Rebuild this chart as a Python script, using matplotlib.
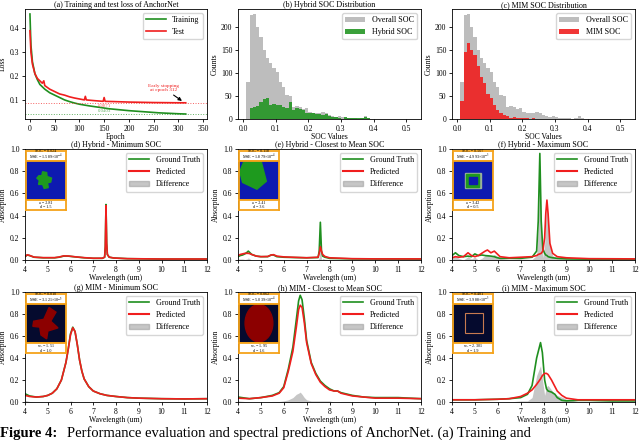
import numpy as np
import matplotlib
matplotlib.use("Agg")
from matplotlib import pyplot as plt
from matplotlib.patches import Patch, Polygon, Rectangle, Ellipse

# ---- (a) loss curves ----
train_epoch = [0, 2, 5, 10, 15, 20, 30, 40, 50, 60, 70, 80, 90, 100, 120, 140,
               160, 180, 200, 220, 240, 260, 280, 300, 315]
train_loss = [0.46, 0.33, 0.26, 0.21, 0.185, 0.165, 0.145, 0.13, 0.12, 0.11, 0.10,
              0.093, 0.087, 0.082, 0.075, 0.069, 0.063, 0.059, 0.055, 0.052, 0.049,
              0.046, 0.044, 0.042, 0.041]
test_epoch = [0, 2, 5, 10, 15, 20, 25, 28, 30, 40, 50, 60, 70, 80, 90, 100, 110,
              112, 114, 130, 148, 150, 152, 170, 200, 250, 300, 315]
test_loss = [0.39, 0.30, 0.25, 0.21, 0.19, 0.18, 0.17, 0.18, 0.16, 0.145, 0.135,
             0.125, 0.12, 0.113, 0.108, 0.104, 0.10, 0.115, 0.10, 0.097, 0.094, 0.11,
             0.094, 0.093, 0.091, 0.089, 0.088, 0.088]
best_test = 0.0871
best_train = 0.0403
stop_epoch = 312

# ---- (b), (c) SOC histograms, bins of 0.01 from 0.01 ----
bin_start = 0.01
bin_width = 0.01
overall_counts = [81, 226, 228, 200, 178, 150, 132, 121, 110, 103, 81, 69, 52, 50, 27,
                  28, 27, 21, 23, 16, 14, 12, 14, 16, 12, 9, 7, 5, 6, 4, 3, 2, 3, 2, 1,
                  2, 6, 3, 1, 1, 0, 0, 0, 0, 0, 0, 0, 0, 0, 1, 1]
hybrid_counts = [0, 25, 27, 28, 37, 44, 46, 30, 33, 31, 30, 27, 25, 37, 20, 23, 22, 19,
                 13, 14, 12, 11, 11, 9, 10, 7, 5, 4, 2, 1, 4, 3, 3, 3, 2, 3, 4, 2, 1,
                 0, 0, 0, 0, 0, 0, 0, 0, 0, 0, 1, 1]
mim_counts = [40, 145, 165, 150, 140, 115, 92, 78, 55, 45, 30, 20, 14, 8, 6, 3, 4, 3, 2,
              3, 2, 1, 2, 1, 1, 0, 0, 0, 0, 0, 1, 0, 0, 0, 0, 0, 0, 1, 0, 0, 0, 0, 0,
              0, 0, 0, 0, 0, 0, 0, 0]

# ---- (d)-(i) spectra ----
wl_d = [4.0, 4.1, 4.2, 4.4, 4.8, 5.3, 5.5, 5.7, 5.9, 6.2, 6.6, 7.0, 7.4, 7.5, 7.53,
        7.56, 7.59, 7.62, 7.7, 7.9, 8.5, 10.0, 12.0]
gt_d = [0.03, 0.045, 0.04, 0.025, 0.02, 0.02, 0.025, 0.035, 0.035, 0.028, 0.02, 0.015,
        0.015, 0.025, 0.12, 0.50, 0.15, 0.05, 0.025, 0.018, 0.012, 0.008, 0.008]
pr_d = [0.032, 0.047, 0.041, 0.026, 0.021, 0.021, 0.027, 0.037, 0.036, 0.029, 0.021,
        0.016, 0.016, 0.026, 0.12, 0.49, 0.15, 0.05, 0.026, 0.018, 0.012, 0.009, 0.009]

wl_e = [4.0, 4.1, 4.2, 4.3, 4.4, 4.45, 4.5, 4.6, 4.8, 5.0, 5.3, 5.45, 5.55, 5.7, 6.0,
        6.5, 7.0, 7.5, 7.55, 7.6, 7.65, 7.7, 7.8, 8.0, 9.0, 10.0, 12.0]
gt_e = [0.03, 0.04, 0.045, 0.055, 0.07, 0.08, 0.07, 0.05, 0.035, 0.03, 0.03, 0.045,
        0.045, 0.03, 0.025, 0.022, 0.02, 0.022, 0.08, 0.34, 0.08, 0.035, 0.025, 0.015,
        0.01, 0.009, 0.008]
pr_e = [0.04, 0.05, 0.055, 0.06, 0.06, 0.06, 0.058, 0.05, 0.035, 0.03, 0.032, 0.045,
        0.048, 0.035, 0.028, 0.024, 0.02, 0.025, 0.06, 0.12, 0.08, 0.05, 0.032, 0.02,
        0.012, 0.01, 0.01]

wl_f = [4.0, 4.15, 4.3, 4.5, 4.7, 4.85, 5.0, 5.15, 5.3, 5.45, 5.55, 5.7, 5.85, 5.95,
        6.1, 6.5, 7.0, 7.5, 7.7, 7.77, 7.84, 7.9, 7.97, 8.05, 8.1, 8.15, 8.2, 8.28,
        8.4, 8.6, 9.0, 10.0, 12.0]
gt_f = [0.04, 0.065, 0.04, 0.03, 0.035, 0.03, 0.055, 0.04, 0.045, 0.04, 0.038, 0.035,
        0.03, 0.022, 0.015, 0.015, 0.015, 0.025, 0.08, 0.35, 0.96, 0.35, 0.1, 0.06,
        0.045, 0.04, 0.03, 0.025, 0.02, 0.015, 0.01, 0.007, 0.005]
pr_f = [0.02, 0.03, 0.025, 0.03, 0.065, 0.04, 0.03, 0.04, 0.06, 0.08, 0.09, 0.065,
        0.08, 0.06, 0.03, 0.02, 0.025, 0.03, 0.04, 0.05, 0.055, 0.06, 0.08, 0.2, 0.42,
        0.54, 0.42, 0.15, 0.06, 0.03, 0.02, 0.012, 0.01]

wl_g = [4.0, 4.2, 4.5, 4.8, 5.0, 5.2, 5.4, 5.6, 5.8, 5.9, 6.0, 6.1, 6.2, 6.3, 6.4, 6.5,
        6.6, 6.8, 7.0, 7.3, 7.6, 8.0, 8.5, 9.0, 10.0, 11.0, 12.0]
gt_g = [0.075, 0.055, 0.045, 0.05, 0.06, 0.08, 0.12, 0.2, 0.36, 0.48, 0.62, 0.68, 0.64,
        0.52, 0.38, 0.28, 0.21, 0.14, 0.1, 0.075, 0.06, 0.05, 0.04, 0.035, 0.03, 0.028,
        0.03]
pr_g = [0.06, 0.05, 0.045, 0.05, 0.06, 0.08, 0.12, 0.2, 0.36, 0.48, 0.61, 0.675, 0.64,
        0.52, 0.38, 0.28, 0.21, 0.14, 0.1, 0.075, 0.06, 0.05, 0.04, 0.035, 0.03, 0.028,
        0.03]

wl_h = [4.0, 4.5, 5.0, 5.5, 5.8, 6.0, 6.2, 6.4, 6.55, 6.65, 6.72, 6.8, 6.9, 7.0, 7.2,
        7.4, 7.6, 7.8, 8.0, 8.2, 8.35, 8.5, 9.0, 9.5, 10.0, 11.0, 12.0]
gt_h = [0.045, 0.03, 0.04, 0.06, 0.085, 0.14, 0.3, 0.5, 0.75, 0.92, 0.97, 0.93, 0.76,
        0.56, 0.36, 0.26, 0.19, 0.15, 0.12, 0.1, 0.1, 0.085, 0.06, 0.045, 0.04, 0.04,
        0.03]
pr_h = [0.035, 0.03, 0.04, 0.055, 0.08, 0.13, 0.28, 0.46, 0.68, 0.84, 0.88, 0.86, 0.72,
        0.54, 0.35, 0.25, 0.18, 0.14, 0.11, 0.1, 0.1, 0.08, 0.055, 0.045, 0.035, 0.035,
        0.03]

wl_i = [4.0, 5.0, 6.0, 6.5, 7.0, 7.3, 7.5, 7.7, 7.87, 7.95, 8.05, 8.13, 8.2, 8.35, 8.5,
        8.6, 8.8, 9.0, 9.5, 10.0, 11.0, 12.0]
gt_i = [0.02, 0.02, 0.025, 0.03, 0.04, 0.07, 0.15, 0.4, 0.54, 0.45, 0.2, 0.12, 0.1,
        0.09, 0.07, 0.04, 0.015, 0.01, 0.015, 0.015, 0.01, 0.01]
pr_i = [0.02, 0.02, 0.025, 0.03, 0.05, 0.08, 0.11, 0.16, 0.21, 0.24, 0.26, 0.26, 0.25,
        0.2, 0.14, 0.1, 0.06, 0.035, 0.02, 0.02, 0.02, 0.02]

spec_titles = ["(d) Hybrid - Minimum SOC", "(e) Hybrid - Closest to Mean SOC",
               "(f) Hybrid - Maximum SOC", "(g) MIM - Minimum SOC",
               "(h) MIM - Closest to Mean SOC", "(i) MIM - Maximum SOC"]
inset_top = ["SOC = 0.024\nMSE = 1.589\u00d710$^{-4}$",
             "SOC = 0.118\nMSE = 1.879\u00d710$^{-4}$",
             "SOC = 0.507\nMSE = 4.993\u00d710$^{-3}$",
             "SOC = 0.010\nMSE = 3.121\u00d710$^{-5}$",
             "SOC = 0.062\nMSE = 5.039\u00d710$^{-4}$",
             "SOC = 0.401\nMSE = 3.988\u00d710$^{-3}$"]
inset_bot = ["a = 2.81\nd = 1.5", "a = 2.41\nd = 3.6", "a = 3.42\nd = 0.5",
             "w$_y$ = 1.51\nd = 1.0", "w$_y$ = 1.95\nd = 1.6", "w$_y$ = 2.301\nd = 1.9"]

GREEN = "#1f8f1f"
RED = "#f01e1e"
ORANGE = "#f5a31a"
HYB_BG = "#0d1ab0"
MIM_BG = "#050a2e"
DARKRED = "#8c0000"

plt.rcParams["font.family"] = ["Liberation Serif", "DejaVu Serif"]
plt.rcParams["mathtext.fontset"] = "stix"
plt.rcParams["font.size"] = 5.5
plt.rcParams["axes.linewidth"] = 0.6
plt.rcParams["xtick.major.width"] = 0.6
plt.rcParams["ytick.major.width"] = 0.6
plt.rcParams["xtick.major.size"] = 2.5
plt.rcParams["ytick.major.size"] = 2.5
plt.rcParams["xtick.major.pad"] = 1.5
plt.rcParams["ytick.major.pad"] = 1.5

fig = plt.figure(figsize=(6.4, 4.4), dpi=100)
W, H = 640.0, 440.0


def add_ax(left, top, right, bottom):
    return fig.add_axes([left / W, 1 - bottom / H, (right - left) / W, (bottom - top) / H])


cols = [(25, 207), (238, 421), (452, 635)]
rows = [(9, 119), (149, 260), (292, 402)]

# (a)
ax = add_ax(cols[0][0], rows[0][0], cols[0][1], rows[0][1])
ax.plot(train_epoch, train_loss, color=GREEN, lw=1.2, label="Training")
ax.plot(test_epoch, test_loss, color=RED, lw=1.2, label="Test")
ax.axhline(best_test, color=RED, ls=":", lw=0.7, alpha=0.7)
ax.axhline(best_train, color=GREEN, ls=":", lw=0.7, alpha=0.7)
ax.text(150, best_test - 0.003, f"{best_test:.4f}", color=RED, fontsize=3.5, ha="center", va="top", alpha=0.7)
ax.text(150, best_train + 0.003, f"{best_train:.4f}", color=GREEN, fontsize=3.5, ha="center", va="bottom", alpha=0.7)
ax.annotate(f"Early stopping\nat epoch {stop_epoch}", xy=(stop_epoch, best_test + 0.002),
            xytext=(270, 0.15), color=RED, fontsize=3.8, ha="center", va="center",
            arrowprops=dict(arrowstyle="-|>", color="black", lw=0.8, mutation_scale=5,
                            shrinkA=12))
ax.set_xlim(-10, 358)
ax.set_xticks([0, 50, 100, 150, 200, 250, 300, 350])
ax.set_yticks([0.1, 0.2, 0.3, 0.4])
ax.set_xlabel("Epoch", labelpad=0.5)
ax.set_ylabel("Loss", labelpad=2)
ax.set_title("(a) Training and test loss of AnchorNet", fontsize=5.8, pad=1.5)
ax.legend(loc="upper right", fontsize=5.8, handlelength=2.5)

# (b), (c)
edges = bin_start + bin_width * np.arange(len(overall_counts))
for (c0, c1), counts, color, name, title in [
        (cols[1], hybrid_counts, "#249624", "Hybrid SOC", "(b) Hybrid SOC Distribution"),
        (cols[2], mim_counts, "#f02020", "MIM SOC", "(c) MIM SOC Distribution")]:
    ax = add_ax(c0, rows[0][0], c1, rows[0][1])
    ax.bar(edges, overall_counts, width=bin_width, align="edge", color="#bdbdbd", label="Overall SOC")
    ax.bar(edges, counts, width=bin_width, align="edge", color=color, alpha=0.9, label=name)
    ax.set_xticks([0.0, 0.1, 0.2, 0.3, 0.4, 0.5])
    ax.set_yticks([0, 50, 100, 150, 200])
    ax.set_xlabel("SOC Values", labelpad=0.5)
    ax.set_ylabel("Counts", labelpad=2)
    ax.set_title(title, fontsize=5.8, pad=1.5)
    ax.legend(loc="upper right", fontsize=5.8, handlelength=2.5)


def draw_shape(iax, k):
    if k < 3:
        iax.set_facecolor(HYB_BG)
    else:
        iax.set_facecolor(MIM_BG)
    if k == 0:
        iax.add_patch(Polygon([(0.33, 0.62), (0.40, 0.62), (0.42, 0.72), (0.52, 0.70),
                               (0.53, 0.60), (0.64, 0.56), (0.62, 0.46), (0.54, 0.44),
                               (0.56, 0.32), (0.46, 0.30), (0.42, 0.40), (0.32, 0.40),
                               (0.34, 0.50), (0.28, 0.56)], color="#1e9a1e"))
    elif k == 1:
        iax.add_patch(Polygon([(0.03, 0.72), (0.12, 0.95), (0.55, 1.0), (0.68, 0.48),
                               (0.45, 0.28), (0.1, 0.45)], color="#1e9a1e"))
    elif k == 2:
        iax.add_patch(Rectangle((0.3, 0.3), 0.4, 0.4, color="#9ab09a"))
        iax.add_patch(Rectangle((0.34, 0.34), 0.32, 0.32, color="#1e9a1e"))
        iax.add_patch(Rectangle((0.4, 0.4), 0.2, 0.2, color=HYB_BG))
    elif k == 3:
        iax.add_patch(Polygon([(0.2, 0.55), (0.45, 0.6), (0.58, 0.9), (0.75, 0.78),
                               (0.62, 0.55), (0.8, 0.38), (0.55, 0.3), (0.52, 0.1),
                               (0.38, 0.2), (0.35, 0.4), (0.18, 0.42)], color=DARKRED))
    elif k == 4:
        iax.add_patch(Ellipse((0.5, 0.5), 0.68, 0.95, color=DARKRED))
    else:
        iax.add_patch(Rectangle((0.3, 0.25), 0.45, 0.5, fill=False, ec="#c87a50", lw=0.8))


spectra = [(wl_d, gt_d, pr_d), (wl_e, gt_e, pr_e), (wl_f, gt_f, pr_f),
           (wl_g, gt_g, pr_g), (wl_h, gt_h, pr_h), (wl_i, gt_i, pr_i)]
for k, (wl, gt, pr) in enumerate(spectra):
    r, c = divmod(k, 3)
    ax = add_ax(cols[c][0], rows[r + 1][0], cols[c][1], rows[r + 1][1])
    wl = np.array(wl)
    gt = np.array(gt)
    pr = np.array(pr)
    ax.fill_between(wl, 0, np.abs(gt - pr), color="#a0a0a0", alpha=0.6, lw=0)
    ax.plot(wl, gt, color=GREEN, lw=1.2)
    ax.plot(wl, pr, color=RED, lw=1.2)
    ax.set_xlim(4, 12)
    ax.set_ylim(0, 1.0)
    ax.set_xticks(range(4, 13))
    ax.set_yticks([0, 0.2, 0.4, 0.6, 0.8, 1.0])
    ax.set_xlabel("Wavelength (um)", labelpad=0.5)
    ax.set_ylabel("Absorption", labelpad=2)
    ax.set_title(spec_titles[k], fontsize=5.8, pad=1.5)
    handles = [plt.Line2D([], [], color=GREEN, lw=1.2), plt.Line2D([], [], color=RED, lw=1.5),
               Patch(color="#a0a0a0", alpha=0.6)]
    ax.legend(handles, ["Ground Truth", "Predicted", "Difference"], loc="upper right",
              fontsize=5.8, handlelength=2.5)

    # inset: text box / image / text box
    iw = 0.223
    x0 = 0.003
    top = 0.985
    hb = 0.09
    hi = 0.357
    boxes = [(top - hb, hb), (top - hb - hi, hi), (top - 2 * hb - hi, hb)]
    for j, (yb, hh) in enumerate(boxes):
        iax = ax.inset_axes([x0, yb, iw, hh])
        iax.set_xlim(0, 1)
        iax.set_ylim(0, 1)
        iax.set_xticks([])
        iax.set_yticks([])
        for sp in iax.spines.values():
            sp.set_color(ORANGE)
            sp.set_linewidth(1.3)
        if j == 0:
            iax.text(0.5, 0.5, inset_top[k], ha="center", va="center", fontsize=3, linespacing=1.0)
        elif j == 2:
            iax.text(0.5, 0.5, inset_bot[k], ha="center", va="center", fontsize=3, linespacing=1.0)
        else:
            draw_shape(iax, k)

fig.text(0.0, 3 / H, "Figure 4:", fontsize=10.5, fontweight="bold", ha="left", va="baseline")
fig.text(0.105, 3 / H, "Performance evaluation and spectral predictions of AnchorNet. (a) Training and",
         fontsize=10.5, ha="left", va="baseline")

fig.savefig("out.png", dpi=100)
